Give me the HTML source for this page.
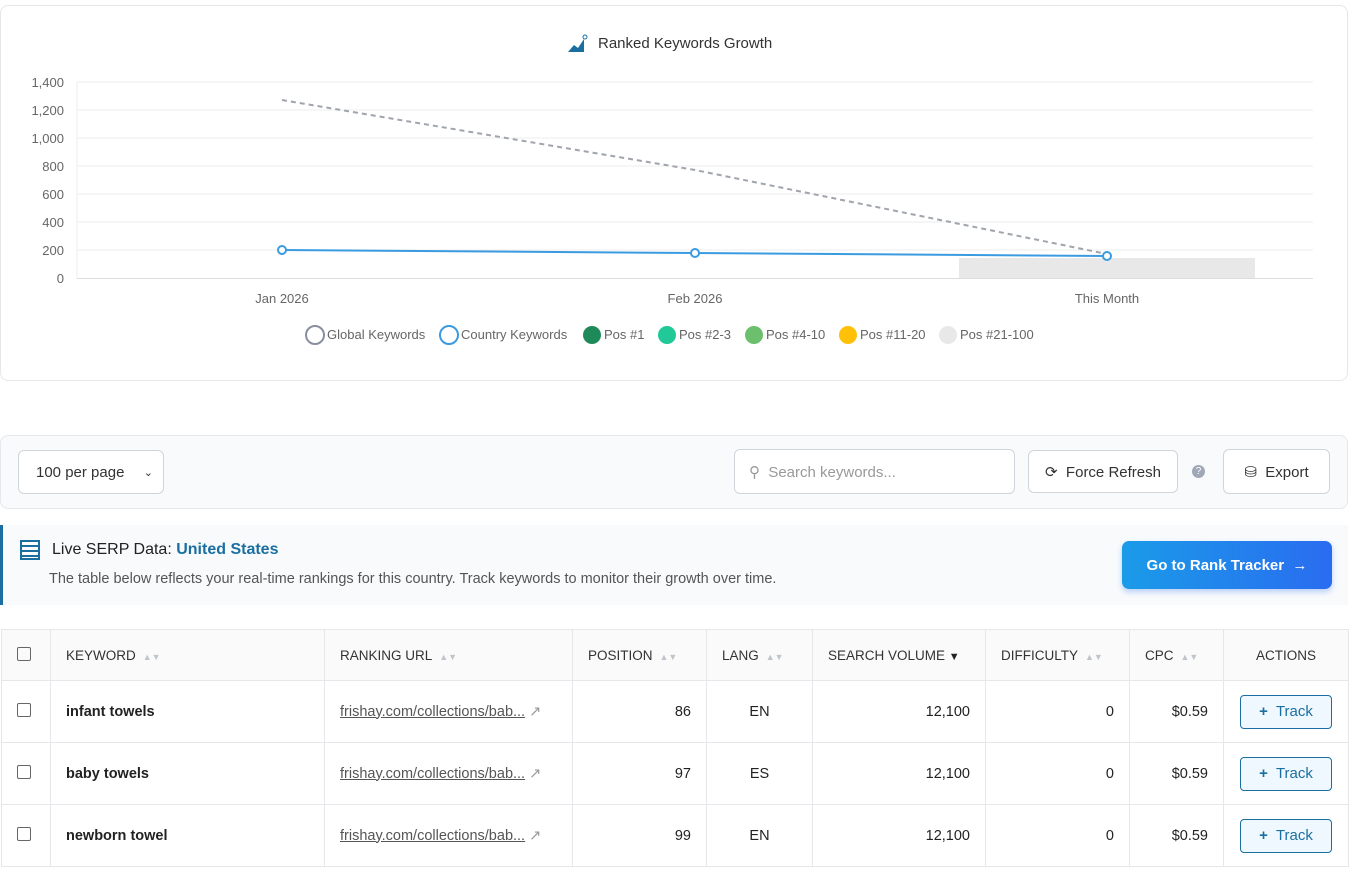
<!DOCTYPE html><html><head><style>
body{margin:0;width:1370px;height:869px;overflow:hidden;background:#fff;font-family:"Liberation Sans",sans-serif;position:relative}
.a{position:absolute}
.card{position:absolute;left:0;width:1348px;border:1px solid #e5e7eb;border-radius:8px;box-sizing:border-box}
.btn{position:absolute;border:1px solid #d1d5db;border-radius:6px;background:#fff;box-sizing:border-box;font-size:15px;color:#333;display:flex;align-items:center;justify-content:center}
table{position:absolute;left:1px;top:629px;border-collapse:collapse;font-size:14.5px;color:#222;table-layout:fixed}
td,th{border:1px solid #e5e7eb;padding:0 15px;box-sizing:border-box;white-space:nowrap;overflow:hidden}
th{height:51px;background:#fafafa;font-size:13.5px;font-weight:normal;color:#333;text-align:left}
td{height:62px}
.s{color:#c0c4cc;font-size:9px;margin-left:7px}
.cb{display:inline-block;width:12px;height:12px;border:1px solid #666;border-radius:2px}
.u{color:#555;text-decoration:underline}
.tr{display:inline-flex;align-items:center;justify-content:center;width:90px;height:32px;border:1px solid #1a6fa0;border-radius:4px;background:#f0f8ff;color:#1a6fa0;font-size:15px}
</style></head><body>
<div class="card" style="top:5px;height:376px"></div>
<svg class="a" style="left:0;top:0" width="1370" height="380">
<path d="M568 52l6-7 4 3 6-9v13h-16z" fill="#1a6fa0"/><circle cx="585" cy="37" r="2" fill="none" stroke="#1a6fa0"/>
<text x="598" y="48" font-size="15" fill="#333">Ranked Keywords Growth</text>
<g stroke="#ececec"><line x1="77" y1="82" x2="1313" y2="82"/><line x1="77" y1="110" x2="1313" y2="110"/><line x1="77" y1="138" x2="1313" y2="138"/><line x1="77" y1="166" x2="1313" y2="166"/><line x1="77" y1="194" x2="1313" y2="194"/><line x1="77" y1="222" x2="1313" y2="222"/><line x1="77" y1="250" x2="1313" y2="250"/><line x1="77" y1="82" x2="77" y2="278"/></g>
<line x1="77" y1="278.5" x2="1313" y2="278.5" stroke="#ddd"/>
<g font-size="13" fill="#666" text-anchor="end"><text x="64" y="87">1,400</text><text x="64" y="115">1,200</text><text x="64" y="143">1,000</text><text x="64" y="171">800</text><text x="64" y="199">600</text><text x="64" y="227">400</text><text x="64" y="255">200</text><text x="64" y="283">0</text></g>
<rect x="959" y="258" width="296" height="20" fill="#e8e8e8"/>
<polyline points="282,100 695,170 1107,254" fill="none" stroke="#a0a4ad" stroke-width="2" stroke-dasharray="5,4"/>
<polyline points="282,250 695,253 1107,256" fill="none" stroke="#3b9be0" stroke-width="2"/>
<g fill="#fff" stroke="#3b9be0" stroke-width="2"><circle cx="282" cy="250" r="4"/><circle cx="695" cy="253" r="4"/><circle cx="1107" cy="256" r="4"/></g>
<g font-size="13" fill="#666" text-anchor="middle"><text x="282" y="303">Jan 2026</text><text x="695" y="303">Feb 2026</text><text x="1107" y="303">This Month</text></g>
<g font-size="13" fill="#666">
<circle cx="315" cy="335" r="9" fill="#fff" stroke="#8a8fa0" stroke-width="2"/><text x="327" y="339">Global Keywords</text>
<circle cx="449" cy="335" r="9" fill="#fff" stroke="#3b9be0" stroke-width="2"/><text x="461" y="339">Country Keywords</text>
<circle cx="592" cy="335" r="9" fill="#1e8a5a"/><text x="604" y="339">Pos #1</text>
<circle cx="667" cy="335" r="9" fill="#20c997"/><text x="679" y="339">Pos #2-3</text>
<circle cx="754" cy="335" r="9" fill="#6cbf6c"/><text x="766" y="339">Pos #4-10</text>
<circle cx="848" cy="335" r="9" fill="#ffc107"/><text x="860" y="339">Pos #11-20</text>
<circle cx="948" cy="335" r="9" fill="#e8e8e8"/><text x="960" y="339">Pos #21-100</text></g>
</svg>
<div class="card" style="top:435px;height:74px;background:#f8fafc"></div>
<div class="btn" style="left:18px;top:450px;width:146px;height:44px;justify-content:space-between;padding:0 10px 0 17px">100 per page <span style="font-size:11px">&#8964;</span></div>
<div class="btn" style="left:734px;top:449px;width:281px;height:45px;justify-content:flex-start;padding-left:14px;color:#999">&#9906;&nbsp; Search keywords...</div>
<div class="btn" style="left:1028px;top:450px;width:150px;height:43px">&#10227;&nbsp; Force Refresh</div>
<div class="a" style="left:1192px;top:465px;width:13px;height:13px;border-radius:50%;background:#a0a8b8;color:#fff;font-size:10px;text-align:center;line-height:13px">?</div>
<div class="btn" style="left:1223px;top:449px;width:107px;height:45px">&#9921;&nbsp; Export</div>
<div class="a" style="left:0;top:525px;width:1348px;height:80px;background:#f8fafc;border-left:3px solid #1a6fa0;box-sizing:border-box"></div>
<div class="a" style="left:20px;top:540px;width:20px;height:20px;border:2px solid #1a6fa0;box-sizing:border-box;background:repeating-linear-gradient(#fff 0 3px,#1a6fa0 3px 5px)"></div>
<div class="a" style="left:52px;top:541px;font-size:16px;color:#222">Live SERP Data: <b style="color:#1a6fa0">United States</b></div>
<div class="a" style="left:49px;top:571px;font-size:14.5px;color:#555">The table below reflects your real-time rankings for this country. Track keywords to monitor their growth over time.</div>
<div class="a" style="left:1122px;top:541px;width:210px;height:48px;border-radius:7px;background:linear-gradient(90deg,#1a9be8,#2a6cf0);color:#fff;font-size:15px;font-weight:bold;display:flex;align-items:center;justify-content:center;box-shadow:0 3px 6px rgba(40,110,240,.3)">Go to Rank Tracker &nbsp;&#8594;</div>
<table>
<tr><th style="width:49px"><span class="cb"></span></th><th style="width:274px">KEYWORD<span class="s">▲▼</span></th><th style="width:248px">RANKING URL<span class="s">▲▼</span></th><th style="width:134px">POSITION<span class="s">▲▼</span></th><th style="width:106px">LANG<span class="s">▲▼</span></th><th style="width:173px">SEARCH VOLUME <span style="font-size:11px;color:#222">▼</span></th><th style="width:144px">DIFFICULTY<span class="s">▲▼</span></th><th style="width:94px">CPC<span class="s">▲▼</span></th><th style="width:125px;text-align:center">ACTIONS</th></tr>
<tr><td><span class="cb"></span></td><td><b>infant towels</b></td><td><span class="u">frishay.com/collections/bab...</span> <span style="color:#999">&#8599;</span></td><td style="text-align:right">86</td><td style="text-align:center">EN</td><td style="text-align:right">12,100</td><td style="text-align:right">0</td><td style="text-align:right">$0.59</td><td style="text-align:center"><span class="tr"><b>+</b>&nbsp; Track</span></td></tr>
<tr><td><span class="cb"></span></td><td><b>baby towels</b></td><td><span class="u">frishay.com/collections/bab...</span> <span style="color:#999">&#8599;</span></td><td style="text-align:right">97</td><td style="text-align:center">ES</td><td style="text-align:right">12,100</td><td style="text-align:right">0</td><td style="text-align:right">$0.59</td><td style="text-align:center"><span class="tr"><b>+</b>&nbsp; Track</span></td></tr>
<tr><td><span class="cb"></span></td><td><b>newborn towel</b></td><td><span class="u">frishay.com/collections/bab...</span> <span style="color:#999">&#8599;</span></td><td style="text-align:right">99</td><td style="text-align:center">EN</td><td style="text-align:right">12,100</td><td style="text-align:right">0</td><td style="text-align:right">$0.59</td><td style="text-align:center"><span class="tr"><b>+</b>&nbsp; Track</span></td></tr>
</table>
</body></html>
